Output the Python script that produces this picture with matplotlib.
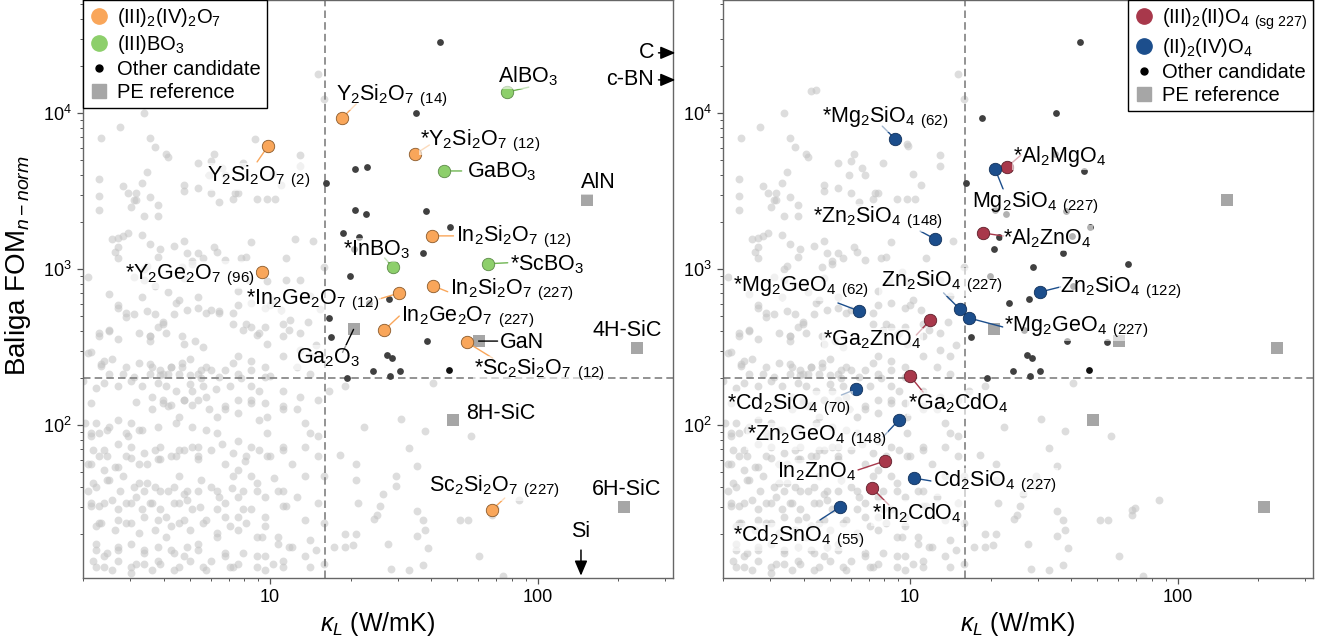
import numpy as np
import matplotlib
matplotlib.use("Agg")
import matplotlib.pyplot as plt
from matplotlib.lines import Line2D
from matplotlib.ticker import FormatStrFormatter, NullFormatter

plt.rcParams["font.family"] = ["Liberation Sans", "DejaVu Sans"]
plt.rcParams["mathtext.fontset"] = "custom"
plt.rcParams["mathtext.rm"] = "Liberation Sans"
plt.rcParams["mathtext.it"] = "Liberation Sans:italic"
plt.rcParams["mathtext.bf"] = "Liberation Sans:bold"

# ---------------------------------------------------------------------------
# colours
# ---------------------------------------------------------------------------
ORANGE = "#F9A65A"
GREEN = "#8DCF6B"
RED = "#A8384B"
BLUE = "#1C4E8C"
DARK = "#404040"
CLOUD = "#c2c2c2"
SQUARE = "#A6A6A6"
DASH = "#808080"

KAPPA_CUT = 16
FOM_CUT = 200

# ---------------------------------------------------------------------------
# data : background screening cloud (log10 kappa, log10 FOM)
# ---------------------------------------------------------------------------
cloud_upper = [
    (1.18, 4.25), (1.20, 4.09), (0.63, 4.14), (0.65, 4.15), (0.53, 4.00), (0.44, 3.91),
    (0.37, 3.84), (0.55, 3.84), (0.57, 3.78), (0.61, 3.74), (0.62, 3.72), (0.79, 3.74),
    (0.78, 3.69), (0.73, 3.68), (0.82, 3.65), (0.83, 3.60), (0.90, 3.68), (1.11, 3.73),
    (1.11, 3.66), (1.01, 3.61), (0.99, 3.80), (0.54, 3.62), (0.36, 3.58), (0.45, 3.53),
    (0.47, 3.49), (0.50, 3.49), (0.52, 3.55), (0.49, 3.44), (0.48, 3.40), (0.50, 3.44),
    (0.36, 3.47), (0.36, 3.38), (0.55, 3.46), (0.58, 3.41), (0.58, 3.34), (0.53, 3.34),
    (0.68, 3.54), (0.68, 3.50), (0.73, 3.52), (0.78, 3.49), (0.77, 3.60), (0.87, 3.49),
    (0.88, 3.49), (0.86, 3.45), (0.95, 3.45), (0.99, 3.45), (1.02, 3.45), (1.04, 3.54),
    (0.81, 3.43), (0.41, 3.19), (0.43, 3.20), (0.45, 3.21), (0.47, 3.23), (0.52, 3.22),
    (0.43, 3.14), (0.42, 3.11), (0.43, 3.07), (0.55, 3.16), (0.59, 3.13), (0.58, 3.08),
    (0.54, 3.02), (0.53, 3.00), (0.64, 3.15), (0.68, 3.18), (0.69, 3.10), (0.73, 3.10),
    (0.79, 3.14), (0.80, 3.11), (0.83, 3.06), (0.89, 3.07), (0.91, 3.08), (0.93, 3.17),
    (1.06, 3.07), (1.16, 3.18), (0.32, 2.95), (1.06, 2.93), (1.11, 2.93), (0.99, 2.92),
    (0.92, 2.93), (0.67, 3.01), (0.71, 3.05), (0.71, 3.03), (0.75, 3.07), (0.68, 2.94),
    (0.49, 2.95), (0.53, 2.93), (0.57, 2.89), (1.20, 3.01), (1.17, 2.51), (0.52, 2.82),
    (0.62, 2.85), (0.66, 2.80), (0.73, 2.82), (1.01, 2.80), (0.40, 2.84), (0.88, 2.86),
    (1.15, 2.83),
]
cloud_mid = [
    (0.43, 2.77), (0.46, 2.72), (0.49, 2.71), (0.54, 2.73), (0.57, 2.71), (0.60, 2.66),
    (0.64, 2.71), (0.69, 2.74), (0.73, 2.75), (0.36, 2.59), (0.40, 2.61), (0.43, 2.55),
    (0.55, 2.57), (0.58, 2.63), (0.61, 2.59), (0.51, 2.59), (0.33, 2.47), (0.38, 2.41),
    (0.37, 2.39), (0.41, 2.42), (0.46, 2.37), (0.51, 2.40), (0.55, 2.39), (0.59, 2.35),
    (0.63, 2.37), (0.67, 2.40), (0.70, 2.42), (0.74, 2.35), (0.76, 2.37), (0.40, 2.33),
    (0.45, 2.33), (0.49, 2.31), (0.55, 2.33), (0.59, 2.32), (0.62, 2.33), (0.66, 2.33),
    (0.70, 2.32), (0.74, 2.30), (0.30, 2.28), (0.35, 2.24), (0.38, 2.27), (0.43, 2.25),
    (0.48, 2.28), (0.52, 2.25), (0.58, 2.27), (0.61, 2.25), (0.65, 2.22), (0.70, 2.26),
    (0.75, 2.25), (0.33, 2.14), (0.50, 2.15), (0.56, 2.18), (0.60, 2.16), (0.63, 2.13),
    (0.68, 2.16), (0.71, 2.13), (0.76, 2.18), (0.35, 2.01), (0.39, 1.97), (0.33, 1.95),
    (0.47, 1.93), (0.51, 1.97), (0.58, 1.99), (0.65, 2.01), (0.71, 1.99), (0.76, 1.97),
]
cloud_low = [
    (0.43, 1.88), (0.34, 1.84), (0.39, 1.80), (0.48, 1.86), (0.53, 1.82), (0.59, 1.86),
    (0.68, 1.84), (0.73, 1.86), (0.33, 1.75), (0.38, 1.71), (0.43, 1.73), (0.48, 1.79),
    (0.54, 1.75), (0.59, 1.78), (0.65, 1.80), (0.73, 1.78), (0.34, 1.63), (0.39, 1.65),
    (0.44, 1.58), (0.49, 1.60), (0.54, 1.63), (0.59, 1.58), (0.64, 1.60), (0.69, 1.58),
    (0.74, 1.65), (0.33, 1.50), (0.36, 1.48), (0.41, 1.52), (0.46, 1.50), (0.50, 1.54),
    (0.55, 1.50), (0.59, 1.46), (0.64, 1.50), (0.69, 1.52), (0.36, 1.37), (0.43, 1.39),
    (0.48, 1.37), (0.53, 1.41), (0.58, 1.39), (0.63, 1.35), (0.68, 1.39), (0.35, 1.24),
    (0.39, 1.18), (0.43, 1.22), (0.48, 1.24), (0.53, 1.20), (0.58, 1.22), (0.64, 1.18),
    (0.69, 1.22), (0.73, 1.24), (0.34, 1.13), (0.38, 1.09), (0.43, 1.13), (0.48, 1.09),
    (0.53, 1.11), (0.59, 1.11), (0.64, 1.07), (0.70, 1.13), (0.75, 1.09),
]
cloud_right = [
    (0.88, 2.77), (0.93, 2.78), (0.98, 2.75), (1.00, 2.77), (1.04, 2.74), (1.14, 2.66),
    (0.86, 2.65), (0.90, 2.61), (0.95, 2.58), (0.99, 2.52), (1.05, 2.57), (1.11, 2.48),
    (1.15, 2.44), (0.88, 2.44), (0.93, 2.41), (0.98, 2.37), (1.05, 2.44), (1.10, 2.37),
    (1.15, 2.33), (0.83, 2.35), (0.89, 2.30), (0.85, 2.25), (0.93, 2.25), (0.96, 2.22),
    (1.05, 2.22), (1.11, 2.18), (1.18, 2.16), (0.83, 2.12), (0.88, 2.08), (0.93, 2.14),
    (0.99, 2.05), (1.05, 2.10), (1.13, 2.01), (1.18, 1.93), (0.80, 1.95), (0.88, 1.90),
    (0.93, 1.86), (0.99, 1.95), (1.05, 1.86), (1.13, 1.86), (1.18, 1.80), (0.83, 1.75),
    (0.88, 1.71), (0.93, 1.67), (0.99, 1.80), (1.08, 1.75), (1.13, 1.67), (1.20, 1.67),
    (0.80, 1.58), (0.88, 1.54), (0.95, 1.58), (1.05, 1.58), (1.10, 1.54), (1.18, 1.50),
    (0.83, 1.41), (0.90, 1.46), (0.98, 1.41), (1.05, 1.48), (1.13, 1.39), (1.20, 1.37),
    (0.80, 1.28), (0.88, 1.33), (0.95, 1.28), (1.03, 1.28), (1.08, 1.22), (1.15, 1.26),
    (0.83, 1.16), (0.90, 1.18), (0.98, 1.16), (1.05, 1.13), (1.13, 1.16), (1.20, 1.11),
    (0.85, 1.09), (0.95, 1.09), (1.05, 1.09), (1.15, 1.09),
]
cloud_dense = [
    (0.32, 2.46), (0.37, 2.38), (0.36, 2.57), (0.40, 2.60), (0.43, 2.75), (0.46, 2.69),
    (0.55, 2.54), (0.55, 2.57), (0.60, 2.65), (0.65, 2.78), (0.67, 2.57), (0.68, 2.52),
    (0.72, 2.54), (0.75, 2.50), (0.76, 2.72), (0.78, 2.74), (0.81, 2.72), (0.86, 2.72),
    (0.91, 2.65), (0.93, 2.63), (0.96, 2.59), (0.98, 2.63), (1.05, 2.65), (1.07, 2.61),
    (1.11, 2.59), (0.56, 2.37), (0.60, 2.33), (0.63, 2.37), (0.67, 2.37), (0.73, 2.33),
    (0.78, 2.35), (0.81, 2.31), (0.86, 2.40), (0.88, 2.33), (0.93, 2.35), (0.98, 2.31),
    (0.31, 2.01), (0.33, 1.93), (0.36, 1.95), (0.40, 1.99), (0.43, 2.03), (0.46, 1.95),
    (0.48, 2.01), (0.52, 1.97), (0.56, 2.10), (0.60, 2.14), (0.62, 2.12), (0.66, 2.05),
    (0.68, 2.16), (0.71, 2.22), (0.73, 2.16), (0.77, 2.10), (0.80, 2.05), (0.83, 2.10),
    (0.88, 2.16), (0.93, 2.16), (0.98, 2.14), (1.05, 2.12), (1.10, 2.10), (1.15, 1.95),
    (0.32, 1.75), (0.36, 1.80), (0.38, 1.84), (0.42, 1.73), (0.46, 1.80), (0.51, 1.75),
    (0.57, 1.84), (0.58, 1.78), (0.63, 1.80), (0.66, 1.84), (0.71, 1.86), (0.73, 1.80),
    (0.78, 1.84), (0.82, 1.88), (0.86, 1.82), (0.91, 1.80), (0.96, 1.84), (1.00, 1.80),
    (1.05, 1.84), (0.32, 1.58), (0.35, 1.60), (0.40, 1.65), (0.45, 1.67), (0.51, 1.63),
    (0.53, 1.58), (0.57, 1.60), (0.62, 1.58), (0.66, 1.67), (0.68, 1.56), (0.73, 1.58),
    (0.78, 1.60), (0.81, 1.54), (0.86, 1.67), (0.90, 1.58), (0.95, 1.63), (0.98, 1.54),
    (1.03, 1.58), (0.33, 1.48), (0.38, 1.50), (0.43, 1.46), (0.48, 1.50), (0.52, 1.46),
    (0.56, 1.50), (0.61, 1.41), (0.66, 1.50), (0.71, 1.46), (0.76, 1.39), (0.80, 1.46),
    (0.83, 1.50), (0.88, 1.41), (0.93, 1.46), (0.98, 1.35), (1.06, 1.48), (0.35, 1.35),
    (0.37, 1.37), (0.42, 1.33), (0.46, 1.37), (0.51, 1.31), (0.57, 1.33), (0.61, 1.28),
    (0.66, 1.37), (0.70, 1.33), (0.75, 1.37), (0.80, 1.31), (0.85, 1.35), (0.91, 1.37),
    (0.97, 1.28), (1.03, 1.24), (0.35, 1.20), (0.38, 1.16), (0.43, 1.20), (0.50, 1.11),
    (0.53, 1.18), (0.58, 1.13), (0.63, 1.20), (0.68, 1.16), (0.73, 1.20), (0.78, 1.13),
    (0.83, 1.18), (0.88, 1.11), (0.95, 1.16), (1.01, 1.11), (1.07, 1.22), (1.17, 1.20),
    (0.35, 1.09), (0.41, 1.07), (0.48, 1.05), (0.56, 1.07), (0.66, 1.09), (0.76, 1.07),
    (0.86, 1.09), (0.98, 1.07),
]
cloud_far = [
    (1.61, 2.27), (1.22, 2.22), (1.35, 1.99), (1.49, 2.04), (1.58, 1.96), (1.75, 1.93),
    (1.52, 1.85), (1.55, 1.74), (1.26, 1.81), (1.32, 1.75), (1.32, 1.65), (1.47, 1.67),
    (1.47, 1.61), (1.42, 1.56), (1.33, 1.50), (1.41, 1.48), (1.39, 1.40), (1.40, 1.42),
    (1.55, 1.45), (1.57, 1.39), (1.58, 1.33), (1.55, 1.29), (1.28, 1.30), (1.32, 1.30),
    (1.31, 1.23), (1.28, 1.22), (1.24, 1.22), (1.44, 1.24), (1.59, 1.21), (1.71, 1.39),
    (1.74, 1.39), (1.78, 1.16), (1.93, 1.52), (1.83, 1.42), (1.84, 1.47), (1.45, 1.08),
    (1.57, 1.10), (1.87, 1.03), (1.52, 1.07), (1.28, 2.25),
]

# other candidates (shared by both panels)
other_kappa = [43.0, 35.2, 16.2, 20.8, 22.9, 38.1, 46.8, 37.4, 21.4, 20.5, 19.9,
               27.9, 23.5, 16.9, 38.4, 27.4, 28.6, 24.2, 28.1, 30.7, 19.4]
other_fom = [28500, 10000, 3560, 2390, 2250, 2360, 1860, 1270, 1600, 1340, 902,
             643, 605, 365, 345, 280, 270, 222, 206, 222, 199]
black_kappa = [46.4]
black_fom = [225]

# (III)2(IV)2O7
pyro_names = ["Y$_2$Si$_2$O$_7$ $_{(2)}$", "Y$_2$Si$_2$O$_7$ $_{(14)}$",
              "*Y$_2$Si$_2$O$_7$ $_{(12)}$", "In$_2$Si$_2$O$_7$ $_{(12)}$",
              "In$_2$Si$_2$O$_7$ $_{(227)}$", "*In$_2$Ge$_2$O$_7$ $_{(12)}$",
              "In$_2$Ge$_2$O$_7$ $_{(227)}$", "*Sc$_2$Si$_2$O$_7$ $_{(12)}$",
              "Sc$_2$Si$_2$O$_7$ $_{(227)}$", "*Y$_2$Ge$_2$O$_7$ $_{(96)}$"]
pyro_kappa = [9.83, 18.6, 34.9, 40.1, 40.5, 30.4, 26.7, 54.2, 67.3, 9.33]
pyro_fom = [6150, 9300, 5460, 1630, 781, 702, 406, 340, 28.5, 957]

# (III)BO3
borate_names = ["AlBO$_3$", "GaBO$_3$", "*InBO$_3$", "*ScBO$_3$"]
borate_kappa = [76.6, 44.5, 28.7, 65.0]
borate_fom = [13600, 4250, 1030, 1080]

# (III)2(II)O4, sg 227
spinel_names = ["*Al$_2$MgO$_4$", "*Al$_2$ZnO$_4$", "*Ga$_2$ZnO$_4$",
                "*Ga$_2$CdO$_4$", "In$_2$ZnO$_4$", "*In$_2$CdO$_4$"]
spinel_kappa = [23.0, 18.8, 11.9, 10.0, 8.06, 7.2]
spinel_fom = [4500, 1700, 471, 206, 58.8, 39.5]

# (II)2(IV)O4
olivine_names = ["*Mg$_2$SiO$_4$ $_{(62)}$", "Mg$_2$SiO$_4$ $_{(227)}$",
                 "*Zn$_2$SiO$_4$ $_{(148)}$", "Zn$_2$SiO$_4$ $_{(227)}$",
                 "*Mg$_2$GeO$_4$ $_{(227)}$", "Zn$_2$SiO$_4$ $_{(122)}$",
                 "*Mg$_2$GeO$_4$ $_{(62)}$", "*Cd$_2$SiO$_4$ $_{(70)}$",
                 "*Zn$_2$GeO$_4$ $_{(148)}$", "Cd$_2$SiO$_4$ $_{(227)}$",
                 "*Cd$_2$SnO$_4$ $_{(55)}$"]
olivine_kappa = [8.8, 20.8, 12.4, 15.3, 16.6, 30.7, 6.44, 6.3, 9.1, 10.3, 5.47]
olivine_fom = [6800, 4350, 1555, 555, 485, 713, 538, 170, 108, 45.7, 29.8]

# power-electronics references
pe_names = ["AlN", "GaN", "Ga$_2$O$_3$", "8H-SiC", "4H-SiC", "6H-SiC"]
pe_kappa = [153, 60.1, 20.5, 48.4, 235, 210]
pe_fom = [2770, 345, 410, 108, 310, 29.9]
si_kappa = 145
offscale_names = ["C", "c-BN"]
offscale_fom = [24300, 16300]

# ---------------------------------------------------------------------------
# label layout: (text dx, dy), (leader end dx, dy) in pixels from the marker
# ---------------------------------------------------------------------------
pyro_layout = [((-61, -31), (-11, -16)), ((-6, 22), (14, 14)), ((5, 13), (14, 9)),
               ((24, -1), (22, 0)), ((17, -4), (15, -6)), ((-153, -7), (-20, -6)),
               ((17, 13), (15, 14)), ((7, -28), (26, -16)), ((-63, 23), (13, 12)),
               ((-137, -3), None)]
borate_layout = [((-9, 16), (22, 5)), ((23, -1), (18, 0)), ((-50, 17), (-8, 9)),
                 ((22, -1), (20, 1))]
spinel_layout = [((6, 11), (14, 12)), ((20, -5), (20, -3)), ((-107, -20), (-14, -15)),
                 ((-2, -27), (13, -16)), ((-108, -11), (-27, -9)), ((0, -25), (17, -17))]
olivine_layout = [((-73, 21), (-13, 13)), ((-23, -34), (8, -20)), ((-122, 21), (-15, 8)),
                  ((-79, 27), (-16, 16)), ((35, -9), (34, -9)), ((20, 4), (20, 5)),
                  ((-126, 24), (-21, 8)), ((-129, -16), (-15, -6)), ((-152, -17), (-16, -17)),
                  ((19, -4), (18, -3)), ((-107, -30), (-20, -13))]
pe_layout = [((-6, 17), None), ((21, -1), (19, 0)), ((-58, -28), (-11, -23)),
             ((13, 6), None), ((-45, 18), None), ((-32, 17), None)]

PX = 72 / 100  # points per pixel
LABEL_FS = 15.5
LABEL_BOX = dict(boxstyle="square,pad=0.05", fc="white", ec="none", alpha=0.6)
CLOUD_S = 32

cloud = np.array(cloud_upper + cloud_mid + cloud_low + cloud_right + cloud_dense + cloud_far)
cloud_k = 10 ** cloud[:, 0]
cloud_f = 10 ** cloud[:, 1]


def put_label(ax, x, y, text, layout, line_color):
    (tdx, tdy), line = layout
    if line is not None:
        ax.annotate("", xy=(x, y), xytext=(line[0] * PX, line[1] * PX),
                    textcoords="offset points", zorder=4,
                    arrowprops=dict(arrowstyle="-", color=line_color, lw=1.0,
                                    shrinkA=0, shrinkB=0))
    ax.annotate(text, xy=(x, y), xytext=(tdx * PX, tdy * PX), textcoords="offset points",
                ha="left", va="center", fontsize=LABEL_FS, zorder=6, bbox=LABEL_BOX)


def draw_family(ax, names, kappa, fom, layout, color, edge, line_color):
    ax.scatter(kappa, fom, s=80, color=color, edgecolors=edge, linewidths=0.6, zorder=5)
    for n, k, f, lay in zip(names, kappa, fom, layout):
        put_label(ax, k, f, n, lay, line_color)


def draw_as_other(ax, kappa, fom):
    k = np.asarray(kappa)
    f = np.asarray(fom)
    inside = (k > KAPPA_CUT) & (f > FOM_CUT)
    ax.scatter(k[inside], f[inside], s=24, color=DARK, linewidths=0, zorder=3)
    ax.scatter(k[~inside], f[~inside], s=CLOUD_S, color=CLOUD, alpha=0.55, linewidths=0, zorder=1)


def base_panel(ax):
    ax.set_xscale("log")
    ax.set_yscale("log")
    ax.set_xlim(2, 320)
    ax.set_ylim(10.45, 53000)
    ax.scatter(cloud_k, cloud_f, s=CLOUD_S, color=CLOUD, alpha=0.55, linewidths=0, zorder=1)
    ax.axvline(KAPPA_CUT, color=DASH, lw=1.2, ls=(0, (4.5, 2.5)), zorder=1.5)
    ax.axhline(FOM_CUT, color=DASH, lw=1.2, ls=(0, (4.5, 2.5)), zorder=1.5)
    ax.scatter(other_kappa, other_fom, s=24, color=DARK, linewidths=0, zorder=3)
    ax.scatter(black_kappa, black_fom, s=24, color="#111111", linewidths=0, zorder=3)
    ax.scatter(pe_kappa, pe_fom, s=72, marker="s", color=SQUARE, linewidths=0, zorder=3)
    ax.tick_params(which="major", direction="out", length=4.5, width=0.9,
                   labelsize=13, color="#555555")
    ax.tick_params(which="minor", direction="out", length=2.5, width=0.7, color="#555555")
    ax.xaxis.set_major_formatter(FormatStrFormatter("%g"))
    ax.xaxis.set_minor_formatter(NullFormatter())
    for sp in ax.spines.values():
        sp.set_color("#666666")
        sp.set_linewidth(1.0)
    ax.set_xlabel(r"$\kappa_L$ (W/mK)", fontsize=18, labelpad=3)


def legend(ax, entries, loc):
    handles = []
    for lab, col in entries:
        handles.append(Line2D([], [], ls="", marker="o", ms=11, mfc=col, mec=col))
    handles.append(Line2D([], [], ls="", marker="o", ms=5, mfc="black", mec="black"))
    handles.append(Line2D([], [], ls="", marker="s", ms=10, mfc=SQUARE, mec=SQUARE))
    labels = [e[0] for e in entries] + ["Other candidate", "PE reference"]
    leg = ax.legend(handles, labels, loc=loc, borderaxespad=0, fontsize=14.5,
                    frameon=True, fancybox=False, edgecolor="black", framealpha=1,
                    handlelength=1.0, handletextpad=0.4, labelspacing=0.2,
                    borderpad=0.3)
    leg.get_frame().set_linewidth(1.0)
    leg.set_zorder(10)


fig = plt.figure(figsize=(13.31, 6.41), dpi=100)
axL = fig.add_axes([83 / 1331, 63 / 641, 590 / 1331, 578 / 641])
axR = fig.add_axes([723 / 1331, 63 / 641, 590 / 1331, 578 / 641])

# ---------------- left panel ----------------
base_panel(axL)
draw_as_other(axL, spinel_kappa, spinel_fom)
draw_as_other(axL, olivine_kappa, olivine_fom)
draw_family(axL, pyro_names, pyro_kappa, pyro_fom, pyro_layout, ORANGE, "#8a5a2b", ORANGE)
draw_family(axL, borate_names, borate_kappa, borate_fom, borate_layout, GREEN, "#5c8a48", "#6fb552")
for n, k, f, lay in zip(pe_names, pe_kappa, pe_fom, pe_layout):
    put_label(axL, k, f, n, lay, "black")

axL.annotate("Si", xy=(si_kappa, 0.004), xycoords=("data", "axes fraction"),
             xytext=(0, 32), textcoords="offset points", ha="center", va="center",
             fontsize=LABEL_FS,
             arrowprops=dict(arrowstyle="-|>,head_length=0.75,head_width=0.32",
                             mutation_scale=12, color="black", lw=1.1, shrinkA=4, shrinkB=0))
for n, f in zip(offscale_names, offscale_fom):
    axL.annotate(n, xy=(1.004, f), xycoords=("axes fraction", "data"),
                 xytext=(-21 * PX, 0), textcoords="offset points", ha="right", va="center",
                 fontsize=LABEL_FS, annotation_clip=False,
                 arrowprops=dict(arrowstyle="-|>,head_length=0.75,head_width=0.32",
                                 mutation_scale=12, color="black", lw=1.1,
                                 shrinkA=1, shrinkB=0))
axL.set_ylabel(r"Baliga FOM$_{n-norm}$", fontsize=20)
axL.yaxis.set_label_coords(-0.085, 0.54)
legend(axL, [("(III)$_2$(IV)$_2$O$_7$", ORANGE), ("(III)BO$_3$", GREEN)], "upper left")

# ---------------- right panel ----------------
base_panel(axR)
draw_as_other(axR, pyro_kappa, pyro_fom)
draw_as_other(axR, borate_kappa, borate_fom)
draw_family(axR, spinel_names, spinel_kappa, spinel_fom, spinel_layout, RED, "#5e1f2a", RED)
draw_family(axR, olivine_names, olivine_kappa, olivine_fom, olivine_layout, BLUE, "#10305a", BLUE)
legend(axR, [(r"(III)$_2$(II)O$_4$ $_{\mathrm{(sg\ 227)}}$", RED), ("(II)$_2$(IV)O$_4$", BLUE)],
       "upper right")

fig.savefig("out.png", dpi=100)
